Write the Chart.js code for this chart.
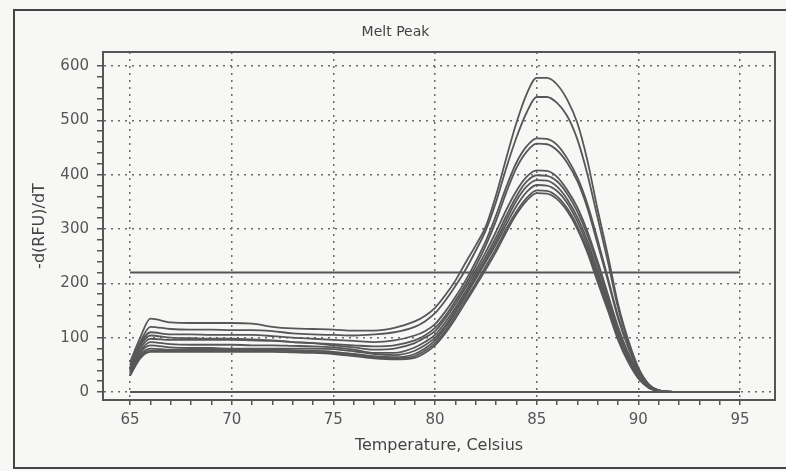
<!DOCTYPE html>
<html>
<head>
<meta charset="utf-8">
<script src="https://cdn.jsdelivr.net/npm/chart.js@4"></script>
<style>
  html, body { margin: 0; padding: 0; background: #f7f7f6; }
  #wrap { position: absolute; left: 0; top: 0; width: 786px; height: 471px; }
</style>
</head>
<body>
<div id="wrap"><canvas id="melt-chart" width="786" height="471"></canvas></div>
<script>
// temperature steps (Celsius)
const temps = [65, 65.5, 66, 67, 68, 69, 70, 71, 72, 73, 74, 75, 76, 77, 78, 79, 79.5, 80, 80.5, 81, 81.5, 82, 82.5, 83, 83.5, 84, 84.5, 85, 85.5, 86, 86.5, 87, 87.5, 88, 88.5, 89, 89.5, 90, 90.5, 91, 92, 93, 94, 95];

// -d(RFU)/dT for each sample
const curve1  = [55,100,135,128,127,127,127,126,120,117,116,115,113,113,118,130,140,155,178,205,238,270,305,362,430,495,548,578,578,566,538,495,425,335,252,162,96,45,15,3,0,0,0,0];
const curve2  = [50,92,120,116,115,115,114,114,112,108,106,105,104,106,110,120,130,145,168,195,225,260,298,350,412,468,514,543,543,532,508,465,400,320,240,155,92,42,14,3,0,0,0,0];
const curve3  = [45,88,110,106,106,105,105,105,103,100,98,96,94,92,95,104,112,125,148,175,205,240,278,325,377,422,452,467,466,455,430,395,345,280,210,140,85,40,13,3,0,0,0,0];
const curve4  = [42,85,104,100,99,98,98,97,95,92,90,88,86,84,86,95,104,118,140,168,198,232,270,315,367,412,442,457,456,445,422,388,338,272,205,136,82,38,12,3,0,0,0,0];
const curve5  = [40,80,98,96,96,96,96,95,94,92,90,86,82,78,80,90,100,112,135,162,192,224,258,295,335,370,396,408,407,396,372,340,295,240,180,120,72,35,12,3,0,0,0,0];
const curve6  = [38,75,92,88,87,87,87,86,86,85,84,82,78,72,72,82,92,105,128,155,185,218,250,285,324,360,387,399,398,388,365,332,288,232,172,115,68,32,11,2,0,0,0,0];
const curve7  = [36,72,86,82,81,81,80,80,80,80,80,79,75,70,68,76,86,100,122,150,180,212,244,278,316,352,378,390,389,378,355,322,278,222,165,110,65,30,10,2,0,0,0,0];
const curve8  = [34,68,80,78,78,78,78,78,78,77,76,74,70,66,64,70,80,95,118,146,176,208,240,272,308,342,368,381,380,370,348,314,270,215,160,105,62,28,9,2,0,0,0,0];
const curve9  = [32,65,76,76,76,76,76,76,76,75,74,72,68,64,62,66,76,90,112,140,170,200,232,264,300,332,357,371,370,360,338,305,262,208,154,100,58,26,8,2,0,0,0,0];
const curve10 = [30,62,74,74,74,74,74,74,74,73,72,70,66,62,60,63,72,86,108,135,165,195,226,258,294,327,352,366,365,355,333,300,256,202,150,96,55,25,8,2,0,0,0,0];
const curves = [curve1, curve2, curve3, curve4, curve5, curve6, curve7, curve8, curve9, curve10];

// threshold and baseline lines
const lineSpan = [65, 95];
const threshold = 220;
const baseline = 0;

// axis ticks
const xTicks = [65, 70, 75, 80, 85, 90, 95];
const yTicks = [0, 100, 200, 300, 400, 500, 600];

const ink = '#555';
const toPoints = vals => temps.map((t, i) => ({x: t, y: vals[i]}));

const datasets = curves.map((c, i) => ({
  label: 'Sample ' + (i + 1),
  data: toPoints(c),
  borderColor: '#575757',
  borderWidth: 1.8,
  pointRadius: 0,
  cubicInterpolationMode: 'monotone'
}));
datasets.push({
  label: 'Threshold',
  data: lineSpan.map(t => ({x: t, y: threshold})),
  borderColor: ink,
  borderWidth: 2,
  pointRadius: 0
});
datasets.push({
  label: 'Baseline',
  data: lineSpan.map(t => ({x: t, y: baseline})),
  borderColor: ink,
  borderWidth: 2,
  pointRadius: 0
});

const frame = {
  id: 'frame',
  beforeDraw(chart) {
    const ctx = chart.ctx;
    ctx.save();
    ctx.strokeStyle = '#444';
    ctx.lineWidth = 2;
    ctx.strokeRect(14, 10, 800, 458);
    ctx.restore();
  },
  afterDraw(chart) {
    const a = chart.chartArea, ctx = chart.ctx;
    ctx.save();
    ctx.strokeStyle = ink;
    ctx.lineWidth = 2;
    ctx.strokeRect(a.left, a.top, a.right - a.left, a.bottom - a.top);
    ctx.restore();
  }
};

function minorTicks(list, step) {
  const out = [];
  for (let v = list[0]; v <= list[list.length - 1] + 1e-9; v += step) out.push({value: Math.round(v * 100) / 100});
  return out;
}

new Chart(document.getElementById('melt-chart'), {
  type: 'line',
  data: { datasets: datasets },
  plugins: [frame],
  options: {
    responsive: false,
    animation: false,
    layout: { padding: { left: 16, right: 11, top: 12, bottom: 6 } },
    plugins: {
      legend: { display: false },
      tooltip: { enabled: false },
      title: {
        display: true,
        text: 'Melt Peak',
        color: '#444',
        font: { family: 'DejaVu Sans', size: 14, weight: 'normal' },
        padding: { top: 12, bottom: 11.2 }
      }
    },
    scales: {
      x: {
        type: 'linear',
        min: 63.67,
        max: 96.72,
        afterBuildTicks: s => { s.ticks = minorTicks(xTicks, 1); },
        afterFit: s => { s.height = 65; },
        ticks: {
          autoSkip: false,
          maxRotation: 0,
          padding: 6,
          color: ink,
          font: { family: 'DejaVu Sans', size: 15 },
          callback: v => xTicks.includes(v) ? v : ''
        },
        grid: {
          color: c => (c.tick && xTicks.includes(c.tick.value)) ? '#6a6a6a' : 'rgba(0,0,0,0)',
          lineWidth: 1.5,
          tickColor: ink,
          tickLength: 5,
          tickWidth: 1.5
        },
        border: { color: ink, width: 2, dash: [2, 5] },
        title: {
          display: true,
          text: 'Temperature, Celsius',
          color: '#444',
          font: { family: 'DejaVu Sans', size: 16 },
          padding: { top: 0, bottom: 9.5 }
        }
      },
      y: {
        type: 'linear',
        min: -14.7,
        max: 625.8,
        afterBuildTicks: s => { s.ticks = minorTicks(yTicks, 20); },
        afterFit: s => { s.width = 87; },
        ticks: {
          autoSkip: false,
          padding: 8,
          color: ink,
          font: { family: 'DejaVu Sans', size: 15 },
          callback: v => yTicks.includes(v) ? v : ''
        },
        grid: {
          color: c => (c.tick && yTicks.includes(c.tick.value)) ? '#6a6a6a' : 'rgba(0,0,0,0)',
          lineWidth: 1.5,
          tickColor: ink,
          tickLength: 6,
          tickWidth: 1.5
        },
        border: { color: ink, width: 2, dash: [2, 5] },
        title: {
          display: true,
          text: '-d(RFU)/dT',
          color: '#444',
          font: { family: 'DejaVu Sans', size: 16 },
          padding: { top: 14.5, bottom: 0 }
        }
      }
    }
  }
});
</script>
</body>
</html>
